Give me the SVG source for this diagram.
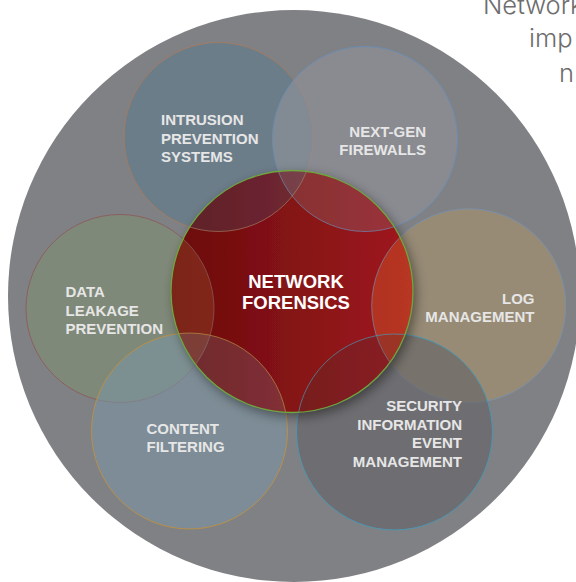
<svg xmlns="http://www.w3.org/2000/svg" width="576" height="582" viewBox="0 0 576 582">
  <defs>
    <style>
      .sat { fill-opacity: 0.6; stroke-width: 1; }
      .lbl { font-family: "Liberation Sans", Arial, Helvetica, sans-serif; font-weight: bold; font-size: 15px; fill: #e6e6e6; }
      .core-lbl { font-family: "Liberation Sans", Arial, Helvetica, sans-serif; font-weight: bold; font-size: 18.5px; fill: #ffffff; text-anchor: middle; }
      .head { font-family: Inter, "Liberation Sans", sans-serif; font-weight: 300; font-size: 25.5px; fill: #6d6d6d; }
      .tint { stroke-width: 1; }
    </style>
    <linearGradient id="coreFill" x1="0" y1="0" x2="1" y2="0">
      <stop offset="0" stop-color="#6a0b0b"/>
      <stop offset="1" stop-color="#a01a20"/>
    </linearGradient>
    <filter id="coreShadow" x="-20%" y="-20%" width="150%" height="150%">
      <feDropShadow dx="3" dy="4" stdDeviation="6" flood-color="#000" flood-opacity="0.45"/>
    </filter>
    <clipPath id="coreClip">
      <circle cx="292" cy="291.5" r="121"/>
    </clipPath>
  </defs>

  <!-- heading lines running off the right edge -->
  <g id="heading">
    <text class="head" x="483" y="13.5">Network</text>
    <text class="head" x="529" y="47">imp</text>
    <text class="head" x="559" y="81.5">n</text>
  </g>

  <!-- outer disc -->
  <circle id="backdrop" cx="294" cy="296" r="286" fill="#808185"/>

  <g id="intrusion-prevention">
    <circle class="sat" cx="218.5" cy="137" r="94.5" fill="#5f7c8d" stroke="#a07c64"/>
    <text class="lbl" x="161" y="125">INTRUSION</text>
    <text class="lbl" x="161" y="143.5">PREVENTION</text>
    <text class="lbl" x="161" y="162">SYSTEMS</text>
  </g>

  <g id="next-gen-firewalls">
    <circle class="sat" cx="365" cy="139" r="92.5" fill="#91929a" stroke="#6c8cb0"/>
    <text class="lbl" x="426" y="136.5" text-anchor="end">NEXT-GEN</text>
    <text class="lbl" x="426" y="154.5" text-anchor="end">FIREWALLS</text>
  </g>

  <g id="data-leakage-prevention">
    <circle class="sat" cx="120" cy="308.5" r="94" fill="#7e9071" stroke="#8a6060"/>
    <text class="lbl" x="65.5" y="297">DATA</text>
    <text class="lbl" x="65.5" y="315.5">LEAKAGE</text>
    <text class="lbl" x="65.5" y="334">PREVENTION</text>
  </g>

  <g id="log-management">
    <circle class="sat" cx="468.7" cy="305.8" r="97" fill="#a6926c" stroke="#7a90a8"/>
    <text class="lbl" x="534.5" y="303.5" text-anchor="end">LOG</text>
    <text class="lbl" x="534.5" y="322" text-anchor="end">MANAGEMENT</text>
  </g>

  <g id="content-filtering">
    <circle class="sat" cx="189.5" cy="431" r="98" fill="#7b95a1" stroke="#b8904a"/>
    <text class="lbl" x="146.5" y="433.5">CONTENT</text>
    <text class="lbl" x="146.5" y="452">FILTERING</text>
  </g>

  <g id="security-information-event-management">
    <circle class="sat" cx="394.5" cy="432" r="98" fill="#626365" stroke="#4d96b0"/>
    <text class="lbl" x="462" y="411" text-anchor="end">SECURITY</text>
    <text class="lbl" x="462" y="429.5" text-anchor="end">INFORMATION</text>
    <text class="lbl" x="462" y="448" text-anchor="end">EVENT</text>
    <text class="lbl" x="462" y="466.5" text-anchor="end">MANAGEMENT</text>
  </g>

  <g id="network-forensics">
    <circle cx="292" cy="291.5" r="121" fill="url(#coreFill)" filter="url(#coreShadow)"/>
    <!-- where the outer circles cross the core disc -->
    <g clip-path="url(#coreClip)">
      <circle class="tint" cx="218.5" cy="137" r="94.5" fill="#40506a" fill-opacity="0.32" stroke="#a07c64" stroke-opacity="0.7"/>
      <circle class="tint" cx="365" cy="139" r="92.5" fill="#91929a" fill-opacity="0.23" stroke="#6c8cb0" stroke-opacity="0.7"/>
      <circle class="tint" cx="120" cy="308.5" r="94" fill="#b07040" fill-opacity="0.25" stroke="#8a6060" stroke-opacity="0.7"/>
      <circle class="tint" cx="468.7" cy="305.8" r="97" fill="#ff8a30" fill-opacity="0.25" stroke="#7a90a8" stroke-opacity="0.7"/>
      <circle class="tint" cx="189.5" cy="431" r="98" fill="#7b95a1" fill-opacity="0.23" stroke="#b8904a" stroke-opacity="0.7"/>
      <circle class="tint" cx="394.5" cy="432" r="98" fill="#3a3a3a" fill-opacity="0.2" stroke="#4d96b0" stroke-opacity="0.7"/>
    </g>
    <circle cx="292" cy="291.5" r="121" fill="none" stroke="#6fa640" stroke-width="1.3"/>
    <text class="core-lbl" x="296" y="288">NETWORK</text>
    <text class="core-lbl" x="296" y="309">FORENSICS</text>
  </g>
</svg>
